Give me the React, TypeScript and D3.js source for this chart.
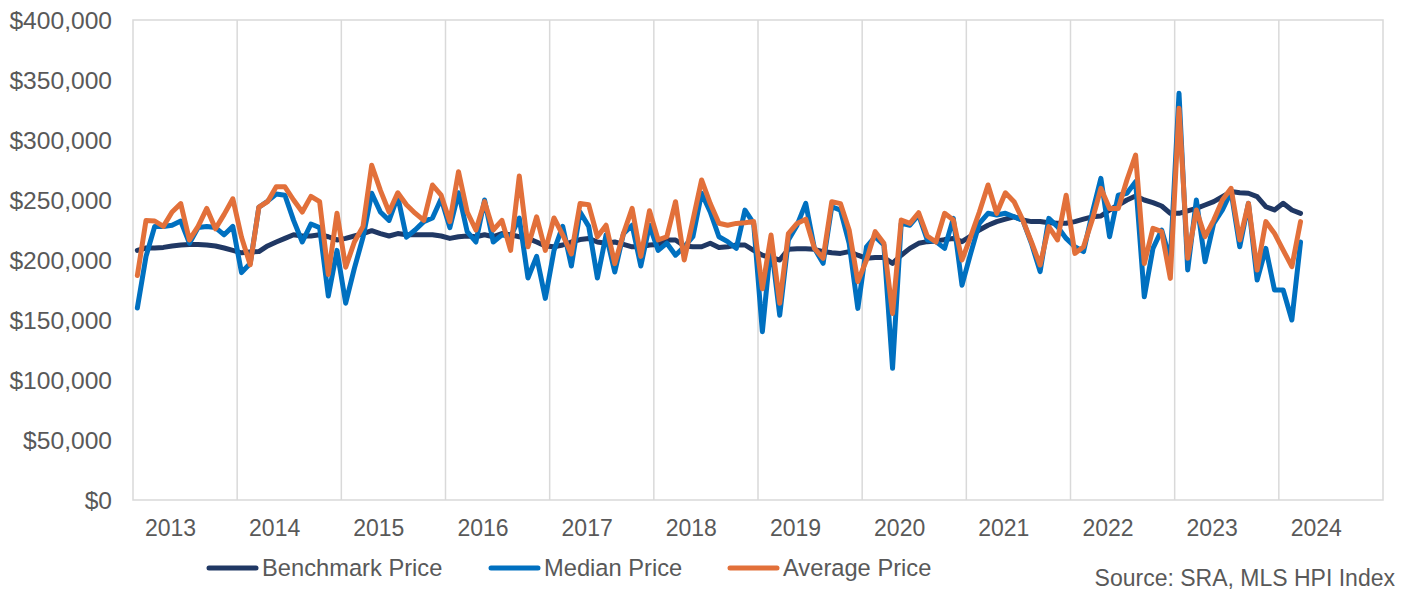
import React from "react";
import * as d3 from "d3";

// Category axis: one slot per month, Jan 2013 .. Dec 2024
const years = ["2013", "2014", "2015", "2016", "2017", "2018", "2019", "2020", "2021", "2022", "2023", "2024"];
const monthsPerYear = 12;

// Y axis ticks (dollars)
const yTicks = [0, 50000, 100000, 150000, 200000, 250000, 300000, 350000, 400000];

// Series values, in thousands of dollars, monthly from Jan 2013 to Mar 2024
const benchmarkPrice = [
  208, 210, 210, 210.5, 211.7, 212.5, 213, 213, 212.5, 211.7, 210, 208,
  206, 206.7, 207, 211.7, 215, 218, 221, 220, 220, 221, 219.4, 216.7,
  218, 220, 222, 224.4, 222, 220, 222, 221, 221, 221, 221, 220,
  218, 219.4, 220, 219.4, 221, 219.4, 222, 221, 219.4, 218, 215, 211.7,
  211, 212.5, 215, 217, 218, 215, 214, 215, 213, 211, 211, 212.5,
  213, 216.7, 216.7, 211.7, 211, 211, 214, 210.5, 211, 212.5, 212.5, 208,
  204, 202, 200, 208.9, 209.4, 209.4, 208.9, 207, 206, 205.5, 207, 204,
  201.4, 202, 202, 197.2, 204, 209.7, 213.9, 215.3, 215.8, 217, 218, 215.3,
  220, 225, 229, 232, 234, 236, 233.3, 232, 232, 231, 230.6, 230.6,
  232, 234, 236, 236.7, 241.7, 245.8, 250, 253.3, 250, 247.8, 245, 238.9,
  238.9, 241, 243, 245.8, 248.6, 252.8, 257, 256, 255.6, 252.8, 244.4, 241.7,
  247.2, 241.7, 238.9,
];
const medianPrice = [
  160, 203, 228, 228, 229, 232.5, 214, 227, 228, 227, 221, 228,
  189.5, 197, 244, 249, 255, 254, 233, 215, 230, 227, 170, 208,
  164, 193, 219, 255.6, 240, 233, 253, 219, 225, 232, 235, 251,
  227, 256, 223.6, 215, 250, 215, 221, 219.4, 235, 185, 203, 168,
  208, 228, 195, 240, 228, 185, 221, 190, 222, 229, 195, 229,
  208, 214, 204, 211, 219.4, 255.6, 240, 219.4, 215.3, 209.7, 241.6, 230.5,
  140.3, 213.9, 154, 216.7, 229, 247.2, 209.7, 197.2, 244.4, 241.6, 213.9, 159.7,
  211, 219.4, 212.5, 109.7, 230.5, 229, 237.5, 216.7, 215.3, 209.7, 234.7, 179,
  205.5, 230.5, 238.9, 237.5, 238.9, 236, 233.3, 213.9, 190.3, 234.7, 227.8, 218,
  211, 207, 239, 268, 219.4, 254, 255.6, 265.3, 169.4, 209.7, 225, 200,
  338.9, 191.7, 250, 198.6, 230.6, 241.7, 257, 211, 247.2, 183.3, 209.7, 175,
  175, 150, 215,
];
const averagePrice = [
  187, 233, 232.5, 228, 240, 247, 216.7, 228, 243, 226, 238, 251,
  219, 196, 244, 248.6, 261, 261, 250, 240, 253, 248.6, 188, 239,
  194, 215, 228, 279, 258, 240, 256, 246, 239, 233, 262.5, 254,
  232, 273.6, 240, 225, 248.6, 225, 233, 208, 270, 211, 236, 208,
  235, 221, 205, 247, 246, 219.4, 229, 197, 222, 243, 203, 241,
  216.7, 219.4, 248.6, 200, 233, 266.7, 247, 230.6, 229, 230.5, 231, 232,
  176, 220.8, 164, 222, 230.5, 234, 209.7, 201.4, 248.6, 247, 225, 182,
  200, 223.6, 214, 155.5, 233.3, 230.5, 239.4, 220, 215, 238.9, 233.3, 200,
  219.4, 240, 262.5, 238.9, 256, 248.6, 233.3, 215, 195.8, 227.8, 216.7, 254,
  205.5, 211, 233.3, 259.7, 243, 243, 266.7, 287.5, 197, 226.4, 223.6, 184.7,
  326.4, 201.4, 241.7, 219.4, 233.3, 250, 259.7, 216.7, 247.2, 191.7, 232, 222.2,
  208.3, 194.4, 232,
];

const seriesNames = ["Benchmark Price", "Median Price", "Average Price"];
const seriesColors = ["#203864", "#0070C0", "#E2703A"];
const sourceText = "Source: SRA, MLS HPI Index";

const W = 1404;
const H = 590;
const M = { left: 133, right: 1383, top: 20, bottom: 500 };
const FONT = "'Liberation Sans', Arial, sans-serif";
const TEXT = "#595959";
const GRID = "#D9D9D9";

export default function App() {
  const nCats = years.length * monthsPerYear;
  const x = d3.scaleLinear().domain([0, nCats]).range([M.left, M.right]);
  const y = d3.scaleLinear().domain([0, 400000]).range([M.bottom, M.top]);
  const fmt = (v: number) => "$" + d3.format(",")(v);

  const series = [benchmarkPrice, medianPrice, averagePrice];
  const line = d3
    .line<number>()
    .x((_, i) => x(i + 0.5))
    .y((d) => y(d * 1000));

  const gridIdx = d3.range(1, years.length).map((k) => k * monthsPerYear);

  // legend layout
  const legendY = 568;
  const legendX = [207, 489, 728];
  const swatch = 51;

  return (
    <svg width={W} height={H} style={{ position: "absolute", left: 0, top: 0, background: "#fff" }}>
      <rect x={0} y={0} width={W} height={H} fill="#fff" />
      {/* vertical gridlines */}
      {gridIdx.map((g) => (
        <line key={g} x1={x(g)} x2={x(g)} y1={M.top} y2={M.bottom} stroke={GRID} strokeWidth={1.5} />
      ))}
      {/* plot border */}
      <rect
        x={M.left}
        y={M.top}
        width={M.right - M.left}
        height={M.bottom - M.top}
        fill="none"
        stroke={GRID}
        strokeWidth={1.5}
      />
      {/* y labels */}
      {yTicks.map((t) => (
        <text
          key={t}
          x={M.left - 21}
          y={y(t)}
          textAnchor="end"
          dominantBaseline="central"
          fontFamily={FONT}
          fontSize={24.6}
          fill={TEXT}
        >
          {fmt(t)}
        </text>
      ))}
      {/* x labels */}
      {years.map((yr, k) => (
        <text
          key={yr}
          x={x(k * monthsPerYear) + (x(monthsPerYear) - x(0)) * 0.36}
          y={528}
          textAnchor="middle"
          dominantBaseline="central"
          fontFamily={FONT}
          fontSize={23}
          fill={TEXT}
        >
          {yr}
        </text>
      ))}
      {/* series */}
      {series.map((s, si) => (
        <path
          key={si}
          d={line(s) || ""}
          fill="none"
          stroke={seriesColors[si]}
          strokeWidth={5}
          strokeLinejoin="round"
          strokeLinecap="round"
        />
      ))}
      {/* legend */}
      {seriesNames.map((n, i) => (
        <g key={n}>
          <line
            x1={legendX[i] + 2}
            x2={legendX[i] + swatch - 2}
            y1={legendY}
            y2={legendY}
            stroke={seriesColors[i]}
            strokeWidth={5}
            strokeLinecap="round"
          />
          <text
            x={legendX[i] + swatch + 4}
            y={legendY}
            dominantBaseline="central"
            fontFamily={FONT}
            fontSize={23.7}
            fill={TEXT}
          >
            {n}
          </text>
        </g>
      ))}
      <text
        x={1395}
        y={578}
        textAnchor="end"
        dominantBaseline="central"
        fontFamily={FONT}
        fontSize={23}
        fill={TEXT}
      >
        {sourceText}
      </text>
    </svg>
  );
}
